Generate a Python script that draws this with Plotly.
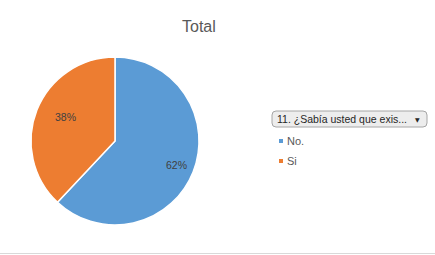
import math
import plotly.graph_objects as go

# ---- data ----
labels = ["No.", "Si"]
values = [62, 38]
colors = ["#5B9BD5", "#ED7D31"]
title_text = "Total"
filter_text = "11. ¿Sabía usted que exis..."

W, H = 435, 255
FONT = "Liberation Sans"

# pie placement in pixels
cx, cy, r = 115, 141, 84

def px(x):
    return x / W

def py(y):
    return 1 - y / H

fig = go.Figure(go.Pie(
    labels=labels, values=values, sort=False, direction="clockwise", rotation=0,
    marker=dict(colors=colors, line=dict(color="white", width=1.5)),
    textinfo="none", hoverinfo="label+percent", showlegend=False,
    domain=dict(x=[px(cx - r), px(cx + r)], y=[py(cy + r), py(cy - r)]),
))

annotations = []
shapes = []
total = sum(values)
cum = 0
for lab, v in zip(labels, values):
    mid = (cum + v / 2) / total * 2 * math.pi
    cum += v
    lx = cx + 0.79 * r * math.sin(mid)
    ly = cy - 0.79 * r * math.cos(mid)
    annotations.append(dict(x=px(lx), y=py(ly), xref="paper", yref="paper",
                            text=f"{round(v / total * 100)}%", showarrow=False,
                            font=dict(family=FONT, size=10.5, color="#404040")))

# title
annotations.append(dict(x=px(199), y=py(16), xref="paper", yref="paper", text=title_text,
                        showarrow=False, font=dict(family=FONT, size=16, color="#595959")))

# filter button
x0, x1, y0, y1, rr = 272, 427, 111, 127, 4
path = (f"M{px(x0+rr)},{py(y0)} L{px(x1-rr)},{py(y0)} Q{px(x1)},{py(y0)} {px(x1)},{py(y0+rr)} "
        f"L{px(x1)},{py(y1-rr)} Q{px(x1)},{py(y1)} {px(x1-rr)},{py(y1)} "
        f"L{px(x0+rr)},{py(y1)} Q{px(x0)},{py(y1)} {px(x0)},{py(y1-rr)} "
        f"L{px(x0)},{py(y0+rr)} Q{px(x0)},{py(y0)} {px(x0+rr)},{py(y0)} Z")
shapes.append(dict(type="path", path=path, xref="paper", yref="paper",
                   fillcolor="#EDEDED", line=dict(color="#A6A6A6", width=1)))
annotations.append(dict(x=px(275), y=py(119), xref="paper", yref="paper", text=filter_text,
                        xanchor="left", showarrow=False,
                        font=dict(family=FONT, size=10.5, color="#262626")))
annotations.append(dict(x=px(421.5), y=py(119), xref="paper", yref="paper", text="▼",
                        showarrow=False, font=dict(family="DejaVu Sans", size=6, color="#262626")))

# legend items
for i, (lab, col) in enumerate(zip(labels, colors)):
    yy = 141 + 20 * i
    shapes.append(dict(type="rect", xref="paper", yref="paper",
                       x0=px(279), x1=px(283), y0=py(yy - 2), y1=py(yy + 2),
                       fillcolor=col, line=dict(width=0)))
    annotations.append(dict(x=px(285), y=py(yy), xref="paper", yref="paper", text=lab,
                            xanchor="left", showarrow=False,
                            font=dict(family=FONT, size=11, color="#595959")))

# bottom border line
shapes.append(dict(type="line", xref="paper", yref="paper", x0=0, x1=1,
                   y0=py(253.5), y1=py(253.5), line=dict(color="#D9D9D9", width=1)))

fig.update_layout(width=W, height=H, margin=dict(l=0, r=0, t=0, b=0),
                  paper_bgcolor="white", plot_bgcolor="white",
                  annotations=annotations, shapes=shapes, showlegend=False)

fig.write_html("out.html")
